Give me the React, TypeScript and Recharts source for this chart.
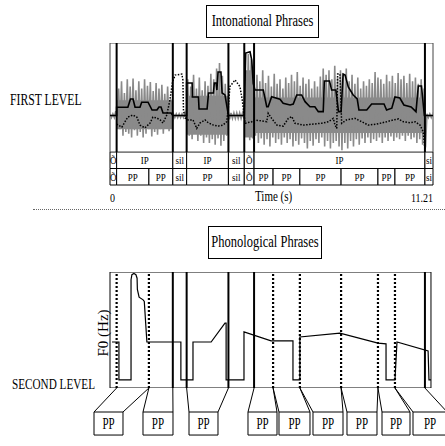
import React from 'react';
import { ComposedChart, Area, Line, XAxis, YAxis, ReferenceLine, ReferenceArea } from 'recharts';

const T_END = 11.21;
const SERIF = '"Liberation Serif", "Times New Roman", serif';

// annotation tiers (seconds)
const ipBounds = [0, 0.23, 2.18, 2.66, 4.11, 4.66, 5.0, 10.93, 11.21];
const ipLabels = ['Õ', 'IP', 'sil', 'IP', 'sil', 'Õ', 'IP', 'si'];
const ppBounds = [0, 0.23, 1.35, 2.18, 2.66, 4.11, 4.66, 5.0, 5.66, 6.59, 8.02, 9.3, 9.89, 10.93, 11.21];
const ppLabels = ['Õ', 'PP', 'PP', 'sil', 'PP', 'sil', 'Õ', 'PP', 'PP', 'PP', 'PP', 'PP', 'PP', 'si'];
const timeTicks = [0, 11.21];

// waveform peaks and troughs, one pair every 0.1 s
const WAVE_DT = 0.1;
const waveMax = [
  0.02, 0.02, 0.05, 0.3, 0.38, 0.25, 0.4, 0.32, 0.41, 0.28, 0.38, 0.3, 0.4, 0.33, 0.37, 0.27, 0.36, 0.3, 0.34, 0.24,
  0.32, 0.18, 0.02, 0.02, 0.02, 0.02, 0.03, 0.4, 0.32, 0.45, 0.3, 0.42, 0.28, 0.38, 0.33, 0.46, 0.4, 0.52, 0.58, 0.44,
  0.35, 0.05, 0.03, 0.03, 0.03, 0.03, 0.03, 0.45, 0.68, 0.62, 0.4, 0.45, 0.38, 0.5, 0.36, 0.44, 0.32, 0.46, 0.35, 0.4,
  0.3, 0.42, 0.36, 0.45, 0.38, 0.48, 0.33, 0.42, 0.35, 0.4, 0.3, 0.38, 0.32, 0.43, 0.52, 0.45, 0.5, 0.4, 0.55, 0.42,
  0.5, 0.46, 0.52, 0.38, 0.45, 0.35, 0.42, 0.3, 0.38, 0.33, 0.4, 0.36, 0.48, 0.42, 0.4, 0.35, 0.45, 0.38, 0.44, 0.36,
  0.47, 0.4, 0.44, 0.36, 0.46, 0.38, 0.42, 0.35, 0.4, 0.3, 0.02, 0.02, 0.02,
];
const waveMin = [
  -0.02, -0.02, -0.05, -0.15, -0.22, -0.18, -0.2, -0.24, -0.16, -0.22, -0.18, -0.24, -0.2, -0.15, -0.23, -0.18, -0.21, -0.15, -0.2, -0.14,
  -0.17, -0.1, -0.02, -0.02, -0.02, -0.02, -0.03, -0.22, -0.26, -0.2, -0.28, -0.22, -0.3, -0.24, -0.3, -0.26, -0.32, -0.25, -0.33, -0.28,
  -0.22, -0.04, -0.03, -0.03, -0.03, -0.03, -0.03, -0.2, -0.27, -0.25, -0.22, -0.3, -0.25, -0.32, -0.26, -0.34, -0.24, -0.3, -0.26, -0.32,
  -0.24, -0.3, -0.26, -0.34, -0.28, -0.32, -0.25, -0.3, -0.36, -0.28, -0.33, -0.26, -0.3, -0.24, -0.34, -0.28, -0.36, -0.3, -0.28, -0.34,
  -0.38, -0.3, -0.36, -0.28, -0.34, -0.26, -0.32, -0.25, -0.3, -0.24, -0.3, -0.26, -0.28, -0.24, -0.3, -0.24, -0.28, -0.23, -0.28, -0.24,
  -0.26, -0.22, -0.28, -0.22, -0.26, -0.24, -0.3, -0.26, -0.32, -0.35, -0.02, -0.02, -0.02,
];
// dense part of the waveform per stretch of speech: [start, end, low, high]
const waveCore = [
  [0.23, 2.18, -0.15, 0.17],
  [2.66, 4.11, -0.21, 0.22],
  [4.66, 5.0, -0.24, 0.5],
  [5.0, 10.93, -0.19, 0.2],
];

// intensity (dB), [time, value]
const intensity = [
  [0, 50.1], [0.23, 50.1], [0.23, 54.6], [0.62, 54.6], [0.71, 59.2], [0.8, 59.2], [0.87, 54.6], [1.04, 54.6],
  [1.1, 57.4], [1.32, 57.4], [1.46, 53.1], [1.63, 53.1], [1.7, 54.8], [1.77, 54.8], [1.84, 51.5], [2.12, 51.5],
  [2.18, 50.1], [2.66, 50.1], [2.66, 68.0], [2.85, 68.0], [2.86, 60.3], [3.07, 60.3], [3.09, 53.7], [3.37, 53.7],
  [3.42, 62.5], [3.59, 62.5], [3.62, 68.0], [3.68, 68.0], [3.71, 64.1], [3.75, 74.0], [3.85, 74.0], [3.89, 62.5],
  [3.99, 61.4], [4.11, 50.1], [4.66, 50.1], [4.71, 84.5], [4.86, 85.2], [4.92, 80.6], [4.97, 67.8], [5.03, 64.1],
  [5.32, 64.1], [5.44, 54.9], [5.49, 54.9], [5.61, 60.4], [5.9, 59.0], [6.01, 56.8], [6.25, 55.9], [6.36, 56.4],
  [6.48, 61.4], [6.65, 61.4], [6.77, 57.7], [6.94, 54.9], [7.11, 54.9], [7.23, 52.2], [7.4, 52.2], [7.44, 69.1],
  [7.62, 69.1], [7.69, 64.1], [7.84, 64.1], [7.93, 52.2], [8.02, 52.2], [8.09, 72.9], [8.16, 72.3], [8.27, 65.8],
  [8.44, 61.4], [8.58, 59.2], [8.64, 53.1], [8.91, 53.1], [9.08, 56.4], [9.51, 56.4], [9.6, 53.1], [9.78, 54.1],
  [9.89, 60.3], [10.06, 59.7], [10.2, 55.9], [10.45, 54.8], [10.62, 52.2], [10.7, 66.3], [10.81, 66.3], [10.91, 50.1],
  [11.21, 50.1],
];

// pitch track of the first level (Hz), [time, value]
const pitch = [
  [0.23, 184], [0.41, 172], [0.52, 193], [0.62, 211], [0.79, 219], [0.93, 211], [1.04, 180], [1.21, 169],
  [1.39, 188], [1.49, 211], [1.62, 208], [1.74, 200], [1.84, 188], [1.97, 219], [2.08, 278], [2.17, 348],
  [2.26, 375], [2.49, 379], [2.53, 356], [2.55, 239], [2.6, 208], [2.71, 200], [2.88, 200], [3.01, 167],
  [3.12, 188], [3.3, 200], [3.41, 189], [3.59, 180], [3.76, 176], [3.92, 180], [4.05, 193], [4.11, 252],
  [4.16, 330], [4.34, 356], [4.51, 330], [4.59, 278], [4.64, 232], [4.69, 187], [4.92, 193], [5.03, 200],
  [5.44, 193], [5.49, 226], [5.61, 206], [5.79, 180], [6.01, 176], [6.19, 206], [6.31, 213], [6.42, 187],
  [6.71, 180], [7.06, 184], [7.35, 187], [7.58, 193], [7.75, 206], [7.81, 180], [7.87, 167], [7.9, 379],
  [7.98, 379], [8.04, 187], [8.21, 200], [8.5, 206], [8.74, 193], [8.96, 180], [9.26, 184], [9.6, 193],
  [9.83, 200], [10.01, 204], [10.18, 193], [10.41, 189], [10.59, 193], [10.76, 180], [10.87, 154], [10.93, 83],
];

// stylised F0 of the second level (Hz), [time, value]
const f0 = [
  [0.07, 119], [0.31, 119], [0.31, 21], [0.73, 21], [0.73, 280], [0.76, 293], [0.83, 296], [0.9, 293],
  [0.94, 284], [0.95, 255], [1.01, 235], [1.15, 228], [1.19, 224], [1.28, 119], [2.46, 119], [2.46, 21],
  [2.88, 21], [2.88, 119], [3.51, 119], [3.99, 168], [4.03, 168], [4.03, 21], [4.65, 21], [4.65, 145],
  [5.59, 122], [6.35, 122], [6.35, 21], [6.59, 21], [6.59, 132], [7.98, 142], [9.3, 116], [9.58, 114],
  [9.58, 21], [9.89, 21], [9.96, 119], [11.04, 96], [11.07, 21], [11.14, 21],
];
const f0SolidLines = [2.18, 2.66, 4.11, 5.0, 10.93];
const f0DottedLines = [0.23, 1.35, 5.66, 6.59, 8.02, 9.3, 9.89];

// where the PP boxes sit under the F0 panel (in seconds on the same scale)
const boxSlots = [
  [-0.555, 0.451], [1.145, 2.186], [2.742, 3.748], [4.789, 5.796], [5.865, 6.941],
  [7.045, 8.087], [8.225, 9.266], [9.44, 10.412], [10.516, 11.7],
];

const pad = { top: 0, right: 12, bottom: 0, left: 110 };
const GREY = '#8a8a8a';

// peak at each sample, trough half a step later
const wavePts = waveMax.flatMap((hi, i) => [
  { t: i * WAVE_DT, w: hi },
  { t: i * WAVE_DT + WAVE_DT / 2, w: waveMin[i] },
]);
const toPts = (arr: number[][]) => arr.map(([t, v]) => ({ t, v }));
const tierDivider = [{ t: 0, v: 1 }, { t: T_END, v: 1 }];

const stretched = (text: string, size: number, sy: number) => (props: any) => {
  const { x, y, width, height } = props.viewBox;
  return (
    <text
      transform={`translate(${x + width / 2},${y + height / 2}) scale(1,${sy})`}
      textAnchor="middle"
      dominantBaseline="central"
      fontSize={size}
      fontFamily={SERIF}
      fill="#000"
    >
      {text}
    </text>
  );
};

const TimeTick = (props: any) => {
  const { x, y, payload } = props;
  return (
    <text
      transform={`translate(${x},${y + 11}) scale(1,1.3)`}
      textAnchor={payload.value === 0 ? 'start' : 'end'}
      dominantBaseline="central"
      fontSize={10}
      fontFamily={SERIF}
      fill="#000"
    >
      {payload.value}
    </text>
  );
};

const Txt = ({ left, top, size, sy = 1.3, children }: any) => (
  <div style={{ position: 'absolute', left, top, fontSize: size, fontFamily: SERIF, whiteSpace: 'nowrap', lineHeight: 1, transform: `translateY(-50%) scaleY(${sy})`, transformOrigin: 'left center' }}>
    {children}
  </div>
);

const TitleBox = ({ left, top, width, height, children }: any) => (
  <div style={{ position: 'absolute', left, top, width, height, boxSizing: 'border-box', border: '1px solid #000', display: 'flex', alignItems: 'center', justifyContent: 'center', fontFamily: SERIF, fontSize: 12.5 }}>
    <span style={{ display: 'inline-block', transform: 'scaleY(1.3)', whiteSpace: 'nowrap' }}>{children}</span>
  </div>
);

const App = () => {
  const ppSegments = ppLabels
    .map((lab, i) => ({ lab, a: ppBounds[i], b: ppBounds[i + 1] }))
    .filter((s) => s.lab === 'PP');

  return (
    <div style={{ position: 'absolute', left: 0, top: 0, width: 445, height: 446, background: '#fff', overflow: 'hidden' }}>
      <TitleBox left={206} top={5} width={113} height={33}>Intonational Phrases</TitleBox>
      <Txt left={10} top={101} size={11.7} sy={1.35}>FIRST LEVEL</Txt>

      {/* waveform + intensity + pitch */}
      <div style={{ position: 'absolute', left: 0, top: 43 }}>
        <ComposedChart width={445} height={109} margin={pad}>
          <XAxis type="number" dataKey="t" domain={[0, T_END]} hide allowDataOverflow />
          <YAxis yAxisId="amp" domain={[-0.4, 0.8]} hide allowDataOverflow />
          <YAxis yAxisId="db" domain={[30, 90]} hide allowDataOverflow />
          <YAxis yAxisId="hz" domain={[75, 500]} hide allowDataOverflow />
          {waveCore.map(([a, b, lo, hi], i) => (
            <Area key={'core' + i} yAxisId="amp" data={[{ t: a, core: [lo, hi] }, { t: b, core: [lo, hi] }]} dataKey="core" type="linear" fill={GREY} fillOpacity={1} stroke="none" dot={false} activeDot={false} isAnimationActive={false} />
          ))}
          <Line yAxisId="amp" data={wavePts} dataKey="w" type="linear" stroke={GREY} strokeWidth={1.6} dot={false} activeDot={false} isAnimationActive={false} />
          {ipBounds.slice(1, -1).map((b) => (
            <ReferenceLine key={b} yAxisId="amp" x={b} stroke="#000" strokeWidth={2} />
          ))}
          <Line yAxisId="hz" data={toPts(pitch)} dataKey="v" type="linear" stroke="#000" strokeWidth={1.5} strokeDasharray="1.5 1.5" dot={false} activeDot={false} isAnimationActive={false} />
          <Line yAxisId="db" data={toPts(intensity)} dataKey="v" type="linear" stroke="#000" strokeWidth={1.6} dot={false} activeDot={false} isAnimationActive={false} />
          <ReferenceArea yAxisId="amp" x1={0} x2={T_END} y1={-0.4} y2={0.8} fill="none" stroke="#444" strokeWidth={1} ifOverflow="visible" />
        </ComposedChart>
      </div>

      {/* tiers */}
      <div style={{ position: 'absolute', left: 0, top: 152 }}>
        <ComposedChart width={445} height={53} margin={pad} data={tierDivider}>
          <XAxis type="number" dataKey="t" domain={[0, T_END]} ticks={timeTicks} interval={0} tick={(p: any) => <TimeTick {...p} />} axisLine={false} tickLine={false} tickSize={0} height={20} />
          <YAxis domain={[0, 2]} hide allowDataOverflow />
          {ipLabels.map((lab, i) => (
            <ReferenceArea key={'ip' + i} ifOverflow="visible" x1={ipBounds[i]} x2={ipBounds[i + 1]} y1={1} y2={2} fill="#fff" fillOpacity={1} stroke="#000" strokeWidth={1} label={stretched(lab, 9, 1.25)} />
          ))}
          {ppLabels.map((lab, i) => (
            <ReferenceArea key={'pp' + i} ifOverflow="visible" x1={ppBounds[i]} x2={ppBounds[i + 1]} y1={0} y2={1} fill="#fff" fillOpacity={1} stroke="#000" strokeWidth={1} label={stretched(lab, 9, 1.25)} />
          ))}
          <Line dataKey="v" type="linear" stroke="#000" strokeWidth={1} dot={false} activeDot={false} isAnimationActive={false} />
        </ComposedChart>
      </div>
      <Txt left={255} top={196} size={11}>Time (s)</Txt>

      <div style={{ position: 'absolute', left: 33, top: 209, width: 412, borderTop: '1px dotted #666' }} />

      <TitleBox left={208} top={226} width={114} height={33}>Phonological Phrases</TitleBox>

      {/* F0 panel */}
      <div style={{ position: 'absolute', left: 0, top: 272 }}>
        <ComposedChart width={445} height={116} margin={pad}>
          <XAxis type="number" dataKey="t" domain={[0, T_END]} hide allowDataOverflow />
          <YAxis domain={[0, 300]} hide allowDataOverflow />
          {f0SolidLines.map((b) => (
            <ReferenceLine key={'s' + b} x={b} stroke="#000" strokeWidth={2} />
          ))}
          {f0DottedLines.map((b) => (
            <ReferenceLine key={'d' + b} x={b} stroke="#000" strokeWidth={2.2} strokeDasharray="2 2" />
          ))}
          <ReferenceArea x1={0} x2={11.14} y1={0} y2={300} fill="none" stroke="#000" strokeWidth={1} ifOverflow="visible" />
          <Line data={toPts(f0)} dataKey="v" type="linear" stroke="#000" strokeWidth={1.2} dot={false} activeDot={false} isAnimationActive={false} />
        </ComposedChart>
      </div>
      <div style={{ position: 'absolute', left: 102.5, top: 333, fontFamily: SERIF, fontSize: 15, whiteSpace: 'nowrap', lineHeight: 1, transform: 'translate(-50%,-50%) rotate(-90deg)' }}>F0 (Hz)</div>
      <Txt left={12} top={384} size={11.2} sy={1.35}>SECOND LEVEL</Txt>

      {/* PP boxes under the F0 panel */}
      <div style={{ position: 'absolute', left: 0, top: 388 }}>
        <ComposedChart width={445} height={48} margin={pad}>
          <XAxis type="number" dataKey="t" domain={[0, T_END]} hide allowDataOverflow />
          <YAxis domain={[0, 1]} hide allowDataOverflow />
          {ppSegments.map((s, i) => (
            <ReferenceLine key={'l' + i} ifOverflow="visible" segment={[{ x: s.a, y: 1 }, { x: boxSlots[i][0], y: 0.5 }]} stroke="#000" strokeWidth={1} />
          ))}
          {ppSegments.map((s, i) => (
            <ReferenceLine key={'r' + i} ifOverflow="visible" segment={[{ x: s.b, y: 1 }, { x: boxSlots[i][1], y: 0.5 }]} stroke="#000" strokeWidth={1} />
          ))}
          {ppSegments.map((s, i) => (
            <ReferenceArea key={'b' + i} ifOverflow="visible" x1={boxSlots[i][0]} x2={boxSlots[i][1]} y1={0.02} y2={0.5} fill="#fff" fillOpacity={1} stroke="#000" strokeWidth={1} label={stretched(s.lab, 11, 1.5)} />
          ))}
        </ComposedChart>
      </div>
    </div>
  );
};

export default App;
